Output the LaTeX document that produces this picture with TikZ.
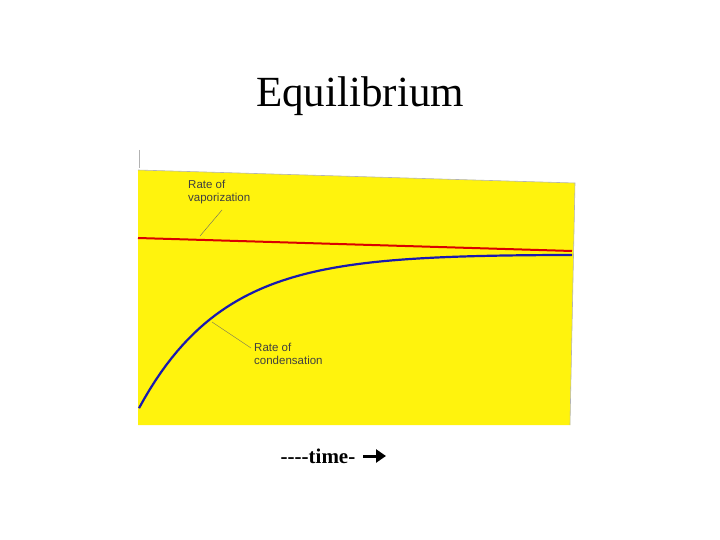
\documentclass[tikz,border=0pt]{standalone}
\usepackage{fontspec}
\usetikzlibrary{arrows.meta}
\setmainfont[Ligatures=NoCommon]{Liberation Serif}
\newfontfamily\lab{Liberation Sans}
\begin{document}
\begin{tikzpicture}[x=1pt,y=-1pt,
  lbl/.style={font=\lab\fontsize{11.5}{12.5}\selectfont,text=black!75,align=left,anchor=north west,inner sep=0pt},
  lead/.style={black!60,line width=0.4pt}]
\useasboundingbox (0,0) rectangle (720,540);
\fill[yellow!95!white] (138,170) -- (575,183) -- (570,425) -- (138,425) -- cycle;
\draw[black!30,line width=0.6pt] (138,170) -- (575,183) -- (570,425);
\draw[black!30] (139,150) -- (139,168);
\node (title) at (360,96) {\fontsize{43}{46}\selectfont Equilibrium};
\draw[red!85!black,line width=2pt] (138,238) -- (572,251);
\draw[blue!65!black!90!white,line width=2.2pt,domain=139:572,samples=80] plot (\x,{250+4*((\x-138)/434)+160*exp(-(\x-138)/85)});
\node[lbl] (vap) at (188,180) {Rate of\\vaporization};
\node[lbl] (con) at (254,343) {Rate of\\condensation};
\coordinate (v1) at (200,236);
\coordinate (c1) at (212,322);
\draw[lead] (222,210) -- (v1);
\draw[lead] (251,348) -- (c1);
\node (time) at (318,456) {\fontsize{21}{24}\selectfont\bfseries {-}{-}{-}{-}time-};
\coordinate (a0) at (363,456);
\coordinate (a1) at (386,456);
\draw[line width=3pt,-{Triangle[length=10pt,width=13pt]}] (a0) -- (a1);
\end{tikzpicture}
\end{document}
